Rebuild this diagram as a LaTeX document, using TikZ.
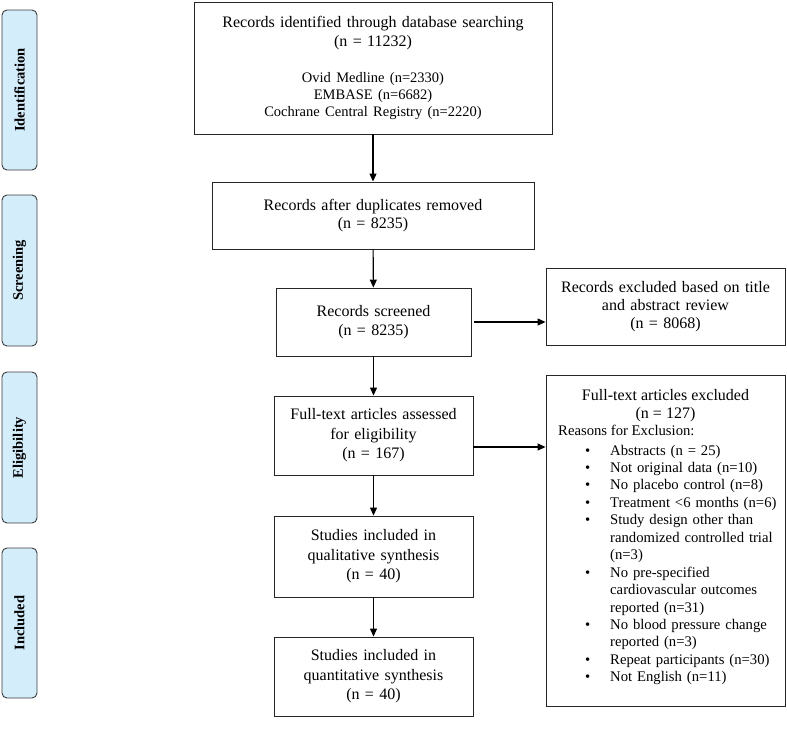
\documentclass[tikz,border=0pt]{standalone}
\usepackage{fontspec}
\setmainfont{Liberation Serif}
\usetikzlibrary{arrows.meta}
\definecolor{sidefill}{RGB}{212,237,251}
\definecolor{sideline}{RGB}{60,60,60}
\newcommand\pbul{\makebox[25pt][l]{\textbullet}}
\newcommand\pind{\hspace*{25pt}}
\begin{document}
\begin{tikzpicture}[x=1pt,y=-1pt,
 box/.style={draw=black!85,line width=0.9pt,inner sep=2pt,align=center,font=\fontsize{16}{18.5}\selectfont},
 side/.style={draw=sideline,fill=sidefill,line width=0.9pt,rounded corners=5pt,rotate=90,minimum height=35pt,inner sep=0pt,font=\fontsize{14.5}{17}\selectfont\bfseries},
 arr/.style={-{Triangle[length=8pt,width=7pt]},line width=1.1pt,black},
 plain/.style={inner sep=0pt}]
\useasboundingbox[fill=white] (0,0) rectangle (787,731);

% side labels
\node[side,minimum width=160pt] (sid) at (19.5,90) {Identification};
\node[side,minimum width=151pt] (ssc) at (19.5,270.5) {Screening};
\node[side,minimum width=151pt] (sel) at (19.5,447.5) {Eligibility};
\node[side,minimum width=150pt] (sin) at (19.5,623) {Included};

% main boxes
\node[box,minimum width=358pt,minimum height=132pt,text width=350pt] (b1) at (373,68)
 {{\fontsize{16}{19}\selectfont Records identified through database searching\\(n = 11232)\par}\vspace{19pt}%
  {\fontsize{14.5}{17}\selectfont Ovid Medline (n=2330)\\EMBASE (n=6682)\\Cochrane Central Registry (n=2220)\par}};
\node[box,minimum width=322pt,minimum height=67pt,text width=314pt] (b2) at (373,215.5)
 {Records after duplicates removed\\(n = 8235)};
\node[box,minimum width=195pt,minimum height=68pt,text width=187pt] (b3) at (373.5,322)
 {Records screened\\(n = 8235)};
\node[box,minimum width=239pt,minimum height=77pt,text width=231pt,font=\fontsize{16}{18}\selectfont] (ex1) at (665.5,306.5)
 {Records excluded based on title\\and abstract review\\(n = 8068)};
\node[box,minimum width=199pt,minimum height=79pt,text width=191pt,font=\fontsize{16}{19.5}\selectfont] (b4) at (373.5,435.5)
 {Full-text articles assessed\\for eligibility\\(n = 167)};
\node[box,minimum width=239pt,minimum height=331pt] (ex2) at (665.5,540.5) {};
\node[box,minimum width=199pt,minimum height=81pt,text width=191pt,font=\fontsize{16}{19.5}\selectfont] (b5) at (373.5,556.5)
 {Studies included in\\qualitative synthesis\\(n = 40)};
\node[box,minimum width=199pt,minimum height=79pt,text width=191pt,font=\fontsize{16}{19.5}\selectfont] (b6) at (373.5,676.5)
 {Studies included in\\quantitative synthesis\\(n = 40)};

% exclusion box contents
\node[plain,align=center,font=\fontsize{16}{18}\selectfont] (ex2h) at (665.5,406)
 {Full-text articles excluded\\(n = 127)};
\node[plain,anchor=base west,font=\fontsize{14.7}{17.5}\selectfont] (ex2r) at (558,435)
 {Reasons for Exclusion:};
\node[plain,anchor=base west,text width=195pt,align=left,font=\fontsize{14.7}{17.45}\selectfont] (ex2l) at (585,455)
 {\pbul Abstracts (n = 25)\\
  \pbul Not original data (n=10)\\
  \pbul No placebo control (n=8)\\
  \pbul Treatment <6 months (n=6)\\
  \pbul Study design other than\\
  \pind randomized controlled trial\\
  \pind (n=3)\\
  \pbul No pre-specified\\
  \pind cardiovascular outcomes\\
  \pind reported (n=31)\\
  \pbul No blood pressure change\\
  \pind reported (n=3)\\
  \pbul Repeat participants (n=30)\\
  \pbul Not English (n=11)};

% connectors
\draw[arr] (b1) -- (b2);
\draw[arr] (b2) -- (b3);
\draw[arr] (b3) -- (b4);
\draw[arr] (b4) -- (b5);
\draw[arr] (b5) -- (b6);
\coordinate (b3out) at ([xshift=3pt]b3.east);
\draw[arr] (b3out) -- (b3out -| ex1.west);
\coordinate (b4out) at ([yshift=-11.5pt]b4.east);
\draw[arr] (b4out) -- (b4out -| ex2.west);
\end{tikzpicture}
\end{document}
